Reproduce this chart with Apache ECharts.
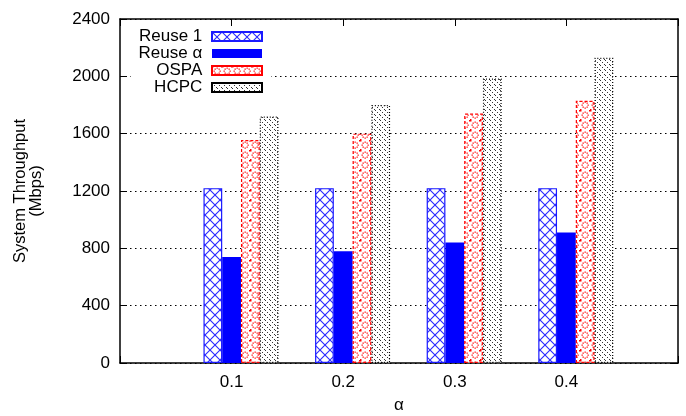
<!DOCTYPE html>
<html>
<head>
<meta charset="utf-8">
<script src="https://cdn.jsdelivr.net/npm/echarts@6/dist/echarts.min.js"></script>
<style>
html,body{margin:0;padding:0;background:#fff;}
#chart{width:686px;height:416px;}
</style>
</head>
<body>
<div id="chart"></div>
<script>
// ---- data ----
var categories = ['0.1', '0.2', '0.3', '0.4'];
var alphas = [0.1, 0.2, 0.3, 0.4];
var seriesNames = ['Reuse 1', 'Reuse \u03b1', 'OSPA', 'HCPC'];
var reuse1 = [1220, 1220, 1220, 1220];
var reuseAlpha = [740, 780, 840, 910];
var ospa = [1555, 1600, 1740, 1830];
var hcpc = [1720, 1800, 1985, 2130];
var yTicks = [0, 400, 800, 1200, 1600, 2000, 2400];

// ---- patterns ----
function tile(w, h, draw) {
  var c = document.createElement('canvas');
  c.width = w; c.height = h;
  var ctx = c.getContext('2d');
  ctx.fillStyle = '#fff';
  ctx.fillRect(0, 0, w, h);
  draw(ctx);
  return { image: c, repeat: 'repeat' };
}
var crossPattern = tile(10, 10, function (ctx) {
  ctx.strokeStyle = '#2a2aff';
  ctx.lineWidth = 1.1;
  ctx.beginPath();
  ctx.moveTo(-1, -1); ctx.lineTo(11, 11);
  ctx.moveTo(11, -1); ctx.lineTo(-1, 11);
  ctx.stroke();
});
var circlePattern = tile(10, 10, function (ctx) {
  ctx.fillStyle = '#ff1a1a';
  for (var k = 0; k < 8; k++) {
    var a = k * Math.PI / 4;
    ctx.fillRect(Math.round(5 + 3 * Math.cos(a)) - 0.5, Math.round(5 + 3 * Math.sin(a)) - 0.5, 1.3, 1.3);
  }
  ctx.fillStyle = '#ff0000';
  ctx.fillRect(0, 0, 1.5, 1.5);
  ctx.fillRect(9, 0, 1, 1.5);
  ctx.fillRect(0, 9, 1.5, 1);
});
var diagPattern = tile(5, 5, function (ctx) {
  ctx.fillStyle = '#333';
  for (var i = 0; i < 5; i++) {
    if (i % 2 === 0) ctx.fillRect(i, i, 1, 1);
  }
});

var fontFam = '"Liberation Sans", Arial, Helvetica, sans-serif';

function pairs(vals) {
  return vals.map(function (v, i) { return [alphas[i], v]; });
}

var barW = 18.75;
var tickStyle = { show: true, inside: true, length: 7, lineStyle: { color: '#000', width: 1 } };
var lineStyle = { show: true, onZero: false, lineStyle: { color: '#000', width: 1.5 } };
var chart = echarts.init(document.getElementById('chart'), null, { renderer: 'canvas' });
var option = {
  backgroundColor: '#fff',
  animation: false,
  textStyle: { fontFamily: fontFam },
  grid: { left: 120, right: 8, top: 19, bottom: 53, containLabel: false, outerBoundsMode: 'none' },
  legend: {
    data: seriesNames,
    orient: 'vertical',
    align: 'right',
    right: 415,
    top: 26,
    padding: [2, 8, 2, 8],
    backgroundColor: '#fff',
    itemWidth: 50,
    itemHeight: 9,
    itemGap: 0,
    icon: 'rect',
    formatter: function (name) { return name + ' '; },
    textStyle: { fontFamily: fontFam, fontSize: 17, color: '#000', lineHeight: 17 }
  },
  xAxis: [{
    type: 'value', position: 'bottom', min: 0, max: 0.5, interval: 0.1,
    name: '\u03b1', nameLocation: 'middle', nameGap: 34,
    nameTextStyle: { fontFamily: fontFam, fontSize: 17, color: '#000' },
    axisLine: lineStyle,
    axisTick: tickStyle,
    axisLabel: {
      margin: 11, color: '#000', fontSize: 17, fontFamily: fontFam,
      formatter: function (v) {
        var i = Math.round(v * 10) - 1;
        return (i >= 0 && i < categories.length && Math.abs(v - alphas[i]) < 1e-6) ? categories[i] : '';
      }
    },
    splitLine: { show: false }
  }, {
    type: 'value', position: 'top', min: 0, max: 0.5, interval: 0.1,
    axisLine: lineStyle,
    axisTick: tickStyle,
    axisLabel: { show: false },
    splitLine: { show: false }
  }],
  yAxis: [{
    type: 'value', position: 'left', min: 0, max: 2400, interval: 400,
    name: 'System Throughput\n(Mbps)', nameLocation: 'middle', nameGap: 76,
    nameTextStyle: { fontFamily: fontFam, fontSize: 16.5, color: '#000', lineHeight: 16 },
    axisLine: lineStyle,
    axisTick: tickStyle,
    axisLabel: {
      margin: 10, color: '#000', fontSize: 17, fontFamily: fontFam,
      formatter: function (v) { return String(v); }
    },
    splitLine: { show: true, lineStyle: { color: '#000', type: [1.5, 3.5], width: 1 } }
  }, {
    type: 'value', position: 'right', min: 0, max: 2400, interval: 400,
    axisLine: lineStyle,
    axisTick: tickStyle,
    axisLabel: { show: false },
    splitLine: { show: false }
  }],
  series: [
    { name: '_pad', type: 'bar', data: [], barWidth: barW, barGap: '0%' },
    {
      name: seriesNames[0], type: 'bar', barWidth: barW, barGap: '0%', data: pairs(reuse1),
      itemStyle: { color: crossPattern, borderColor: '#1a1aff', borderWidth: 1.2 }
    },
    {
      name: seriesNames[1], type: 'bar', barWidth: barW, barGap: '0%', data: pairs(reuseAlpha),
      itemStyle: { color: '#0000ff', borderColor: '#0000ff', borderWidth: 0 }
    },
    {
      name: seriesNames[2], type: 'bar', barWidth: barW, barGap: '0%', data: pairs(ospa),
      itemStyle: { color: circlePattern, borderColor: '#ff0000', borderWidth: 1.2, borderType: [3, 2] }
    },
    {
      name: seriesNames[3], type: 'bar', barWidth: barW, barGap: '0%', data: pairs(hcpc),
      itemStyle: { color: diagPattern, borderColor: '#000', borderWidth: 1.2, borderType: [1, 2] }
    }
  ]
};
chart.setOption(option);
</script>
</body>
</html>
